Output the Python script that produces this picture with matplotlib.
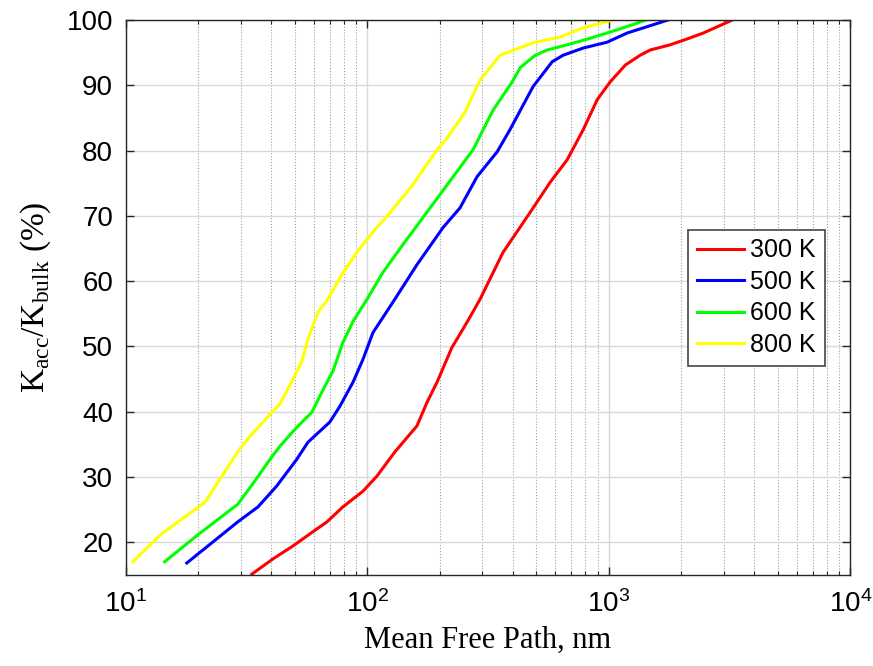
import numpy as np
import matplotlib
matplotlib.use("Agg")
import matplotlib.pyplot as plt

# ----------- Data -----------
mfp_300 = [33.3, 40.6, 49.2, 59.6, 68.1, 79.3, 96.0, 109.6, 130, 160.6, 176.7, 194.5, 224, 259, 293,
           365, 472, 571, 673, 784, 896, 1013, 1171, 1349, 1485, 1797, 2113, 2462, 3250]
acc_300 = [15.1, 17.4, 19.4, 21.6, 23.1, 25.4, 27.8, 30.1, 33.8, 37.8, 41.4, 44.5, 49.8, 53.7, 57.2,
           64.4, 70.5, 75.1, 78.6, 83.2, 87.8, 90.5, 93.1, 94.6, 95.4, 96.2, 97.1, 98.0, 100.0]

mfp_500 = [17.9, 29.1, 35.3, 42.2, 51.1, 56.8, 70.0, 77.0, 87.3, 96.0, 105.6, 130, 160.6, 206, 242,
           285, 345, 390, 486, 583, 647, 784, 985, 1191, 1760]
acc_500 = [16.8, 23.1, 25.4, 28.6, 32.7, 35.3, 38.4, 40.8, 44.5, 48.0, 52.1, 57.2, 62.5, 68.2, 71.2,
           76.0, 79.8, 83.2, 89.8, 93.6, 94.6, 95.7, 96.6, 98.0, 100.0]

mfp_600 = [14.5, 19.7, 29.1, 34.3, 39.6, 43.5, 51.1, 59.0, 64.9, 72.1, 79.3, 87.3, 99.7, 116, 140.6,
           196, 242, 274, 332, 398, 430, 496, 556, 673, 838, 1084, 1430]
acc_600 = [17.0, 21.0, 25.8, 29.4, 32.7, 34.7, 37.6, 39.9, 43.0, 46.2, 50.6, 53.8, 57.2, 61.3, 65.6,
           72.8, 77.4, 80.1, 86.2, 90.5, 92.7, 94.6, 95.4, 96.2, 97.2, 98.5, 100.0]

mfp_800 = [10.7, 14.1, 21.3, 24.1, 29.7, 32.7, 40.3, 43.4, 48.7, 53.6, 56.8, 62.5, 68.7, 78.5, 90.6,
           107.6, 120.7, 154.7, 194.5, 214, 254, 293, 355, 486, 629, 784, 1040]
acc_800 = [17.0, 21.3, 26.1, 29.2, 34.3, 36.2, 39.9, 41.1, 44.6, 47.7, 51.1, 55.2, 57.2, 61.0, 64.4,
           67.9, 69.9, 74.8, 80.1, 81.9, 85.9, 90.8, 94.6, 96.5, 97.4, 98.8, 100.0]

labels = ["300 K", "500 K", "600 K", "800 K"]
colors = ["#ff0000", "#0000ff", "#00ff00", "#ffff00"]

plt.rcParams['font.family'] = ['Liberation Sans', 'DejaVu Sans']
plt.rcParams['mathtext.fontset'] = 'custom'
plt.rcParams['mathtext.rm'] = 'Liberation Sans'

fig = plt.figure(figsize=(8.73, 6.66), dpi=100)
ax = fig.add_axes([0.144, 0.137, 0.830, 0.833])

series = [(mfp_300, acc_300), (mfp_500, acc_500), (mfp_600, acc_600), (mfp_800, acc_800)]
for (x, y), lab, c in zip(series, labels, colors):
    ax.plot(x, y, color=c, linewidth=2.2, label=lab)

ax.set_xscale('log')
ax.set_xlim(10, 1e4)
ax.set_ylim(15, 100)
ax.set_yticks(np.arange(20, 101, 10))

ax.grid(True, which='major', color='#d9d9d9', linewidth=1, linestyle='-')
ax.grid(True, which='minor', color='#a0a0a0', linewidth=0.8, linestyle=':')
ax.set_axisbelow(True)

ax.tick_params(which='both', direction='in', top=True, right=True, colors='#262626',
               labelcolor='black', labelsize=20)
ax.tick_params(which='major', length=6, width=1)
ax.tick_params(which='minor', length=3, width=0.8)
ax.tick_params(axis='x', which='major', pad=11)
ax.tick_params(axis='y', which='major', pad=9)
for s in ax.spines.values():
    s.set_color('#262626')
    s.set_linewidth(1)

ax.set_xlabel("Mean Free Path, nm", family=['Liberation Serif'], fontsize=22, labelpad=6)
ax.set_ylabel(r"K$_{\mathregular{acc}}$/K$_{\mathregular{bulk}}$ (%)", family=['Liberation Serif'],
              fontsize=24, labelpad=10)

leg = ax.legend(loc='upper left', bbox_to_anchor=(0.776, 0.622), borderaxespad=0, fontsize=18,
                fancybox=False, framealpha=1, edgecolor='#444444', handlelength=1.9,
                handletextpad=0.25, borderpad=0.35, labelspacing=0.3)
leg.get_frame().set_linewidth(1.2)

fig.savefig("out.png", dpi=100)
